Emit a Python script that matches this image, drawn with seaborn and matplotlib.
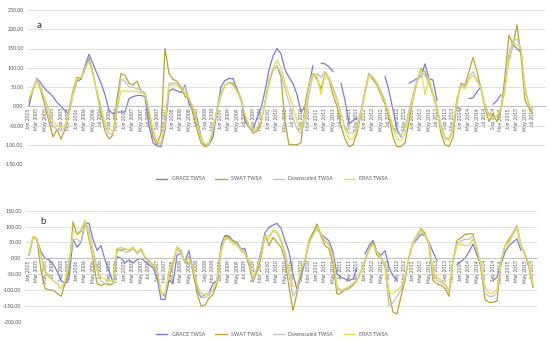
import numpy as np
import pandas as pd
import matplotlib
matplotlib.use("Agg")
import matplotlib.pyplot as plt
import seaborn as sns
from matplotlib.lines import Line2D
from matplotlib.ticker import FuncFormatter, FixedLocator

nan = np.nan

# ---- categories (monthly, Jan 2005 - Jul 2015) ----
months = pd.date_range("2005-01-01", periods=127, freq="MS")
tick_labels = [m.strftime("%b %Y") for m in months[::2]]
series_names = ["GRACE TWSA", "SWAT TWSA", "Downscaled TWSA", "ERA5 TWSA"]

# ---- panel a ----
a_grace = [0, 45, 72, 60, 45, 35, 25, 10, 0, -12, -18, 30,
           65, 70, 105, 135, 110, 85, 60, 30, -10, -20, -15, -15,
           -15, 20, 25, 28, 28, 25, -50, -95, -103, -105, -60, 40,
           45, 40, 35, 55, 5, -10, -30, -80, -105, -100, -80, -10,
           50, 67, 72, 72, 45, 20, -40, -55, -62, -30, -5, 40,
           95, 130, 150, 136, 95, 75, 59, 30, -15, 0, 55, 106,
           nan, 112, 110, 102, 90, nan, 60, 15, -45, -38, -30, nan,
           nan, 85, 70, 59, nan, 78, 40, -10, -60, -80, nan, 60,
           65, 72, 78, 110, 72, 68, 15, nan, nan, nan, nan, -3,
           -8, nan, 20, 22, 38, 50, nan, nan, 5, 15, 30, nan,
           120, 160, 150, 140, nan, nan, nan]
a_swat = [10, 45, 68, 40, 0, -40, -80, -60, -85, -60, -10, 40,
          75, 72, 95, 125, 85, 35, -20, -65, -85, -75, 20, 85,
          80, 60, 55, 65, 40, 35, -20, -80, -100, -70, 150, 85,
          70, 65, 50, 25, 20, -20, -60, -95, -105, -100, -60, -10,
          30, 55, 62, 60, 40, 20, -30, -55, -70, -65, -45, 10,
          60, 95, 105, 75, -40, -100, -100, -100, -95, 0, 60, 85,
          70, 45, 85, 70, 30, 0, -50, -85, -105, -100, -70, -20,
          40, 85, 70, 55, 30, 5, -30, -80, -105, -105, -95, -40,
          20, 65, 98, 90, 60, 30, -10, -70, -100, -105, -80, 10,
          60, 55, 90, 127, 90, 45, -5, -40, -20, -40, -10, 80,
          185, 160, 212, 130, 15, -5, -20]
a_down = [15, 45, 70, 50, 10, -30, -50, -60, -65, -55, -15, 35,
          70, 75, 100, 120, 85, 35, -10, -55, -70, -75, -5, 70,
          65, 50, 50, 45, 40, 35, -10, -65, -95, -100, -40, 60,
          60, 60, 45, 50, 20, -5, -45, -85, -100, -100, -60, -10,
          30, 55, 62, 55, 40, 15, -25, -55, -65, -60, -40, 10,
          65, 95, 105, 85, 45, 10, -30, -60, -70, -40, 30, 80,
          85, 75, 90, 75, 50, 20, -20, -55, -70, -70, -50, -10,
          40, 85, 75, 60, 40, 15, -20, -55, -70, -75, -55, -10,
          30, 70, 90, 80, 65, 35, 0, -50, -80, -85, -55, 20,
          55, 50, 75, 90, 70, 45, 5, -20, -35, -25, -5, 50,
          140, 170, 175, 150, 50, 5, -5]
a_era5 = [20, 45, 65, 45, 20, -10, -40, -50, -55, -50, -20, 30,
          70, 75, 95, 115, 80, 40, 0, -45, -60, -65, -10, 40,
          40, 38, 40, 38, 35, 30, -10, -60, -90, -95, -50, 55,
          55, 55, 45, 35, 20, 0, -40, -80, -100, -95, -60, -10,
          35, 55, 60, 55, 40, 20, -20, -50, -60, -55, -40, 10,
          70, 100, 120, 100, 60, 30, 0, -40, -60, -20, 60, 85,
          80, 30, 85, 70, 45, 15, -20, -60, -85, -85, -60, -20,
          30, 80, 75, 60, 35, 10, -20, -60, -85, -90, -70, -20,
          20, 60, 95, 30, 75, 30, -10, -60, -85, -90, -60, 20,
          50, 45, 70, 80, 65, 45, 0, -25, -30, -25, -10, 40,
          120, 165, 160, 150, 40, 0, -10]

# ---- panel b ----
b_grace = [10, 65, 60, 20, 0, -5, -18, -40, -70, -80, -65, 60,
           35, 50, 110, 110, 60, 25, 40, -5, -40, -75, 5, 0,
           -15, -5, -15, -5, 0, -10, -20, -30, -60, -130, -130, -70,
           -80, 10, 15, -10, 24, -40, -100, -123, -115, -110, -80, -70,
           40, 72, 70, 55, 50, 30, 30, -20, -70, -30, 20, 80,
           98, 105, 110, 95, 56, 20, -50, -97, -60, -10, 50, 80,
           100, 77, 66, 55, 20, -50, -60, -65, -70, -65, -30, nan,
           14, 40, 56, 20, 10, 24, -28, -55, -70, nan, nan, nan,
           45, 60, 75, 72, 50, 20, -7, nan, nan, nan, nan, -20,
           -10, 0, 20, 45, 10, -20, nan, nan, -70, -60, -20, 20,
           40, 50, 61, 24, nan, nan, nan]
b_swat = [10, 65, 60, -40, -95, -100, -100, -110, -120, -80, -40, 115,
          75, 85, 120, 60, 0, -80, -86, -80, -85, -80, 30, 25,
          30, 25, 35, 15, 30, 5, -10, -20, -35, -110, -120, -60,
          -20, 35, 25, -15, 5, -40, -110, -150, -148, -125, -115, -80,
          20, 70, 65, 55, 50, 25, 15, -20, -75, -40, 0, 75,
          40, 66, 50, 35, -5, -90, -165, -110, -40, -5, 56, 80,
          108, 70, 40, 30, -20, -113, -110, -100, -95, -85, -70, -40,
          -10, 30, 50, 10, 0, -20, -110, -170, -175, -120, -70, 5,
          50, 72, 93, 80, 40, -70, -80, -85, -95, -120, -10, 56,
          65, 75, 77, 77, 25, -35, -130, -139, -139, -135, -10, 40,
          60, 80, 103, 40, 10, -30, -92]
b_down = [10, 65, 60, 10, -40, -55, -70, -80, -95, -75, -10, 60,
          60, 50, 115, 90, 30, -30, -70, -80, -80, -80, 20, 30,
          20, 20, 30, 15, 25, 0, -10, -25, -40, -110, -115, -40,
          -10, 30, 15, -10, 0, -30, -90, -120, -125, -115, -100, -70,
          30, 60, 62, 50, 45, 30, 20, -10, -70, -30, 10, 70,
          70, 85, 80, 55, 10, -50, -120, -100, -40, -10, 50, 75,
          90, 75, 55, 45, 10, -95, -105, -100, -90, -80, -70, -40,
          -5, 30, 45, 20, 0, -30, -150, -140, -120, -100, -60, 0,
          50, 70, 85, 70, 45, -50, -70, -75, -85, -105, -10, 45,
          55, 60, 60, 70, 30, -30, -110, -120, -120, -110, -10, 40,
          50, 75, 95, 40, 15, -25, -85]
b_era5 = [15, 70, 65, 5, -45, -60, -70, -80, -95, -70, -20, 85,
          80, 90, 118, 70, 10, -40, -60, -65, -70, -75, 30, 35,
          30, 25, 35, 20, 30, 5, -5, -20, -35, -110, -110, -50,
          -10, 38, 20, -10, 0, -30, -80, -110, -115, -110, -100, -70,
          25, 65, 60, 45, 40, 25, 15, -10, -60, -30, 10, 70,
          60, 90, 85, 60, 20, -30, -90, -85, -30, -5, 50, 70,
          100, 80, 55, 40, 0, -90, -100, -95, -90, -80, -70, -45,
          -10, 25, 45, 20, 0, -20, -110, -110, -100, -90, -60, 0,
          45, 70, 88, 75, 50, -40, -60, -70, -80, -100, -10, 40,
          45, 40, 40, 60, 30, -20, -90, -110, -110, -100, -10, 40,
          50, 80, 100, 40, 15, -20, -80]

colors = ["#7b7bd6", "#b9a437", "#c9c0c0", "#e2dd4a"]

sns.set_style("white")
plt.rcParams["font.family"] = ["Lato", "DejaVu Sans"]

fig = plt.figure(figsize=(5.5, 3.42), dpi=100)
W, H = 550, 342
axA = fig.add_axes([27 / W, 1 - 164 / H, (545 - 27) / W, 154 / H])
axB = fig.add_axes([25 / W, 1 - 321.7 / H, (537 - 25) / W, 111 / H])


def draw(ax, data, ylim, xlim):
    for vals, color in zip(data, colors):
        df = pd.DataFrame({"i": np.arange(len(vals)), "v": np.array(vals, dtype=float)})
        df["seg"] = df["v"].isna().cumsum()
        df = df.dropna()
        sns.lineplot(data=df, x="i", y="v", units="seg", estimator=None,
                     color=color, lw=0.9, ax=ax, legend=False)
    ax.set_ylim(*ylim)
    ax.set_xlim(*xlim)
    ax.set_xlabel("")
    ax.set_ylabel("")
    ax.yaxis.set_major_locator(FixedLocator(np.arange(ylim[0], ylim[1] + 1, 50)))
    ax.yaxis.set_major_formatter(FuncFormatter(lambda v, p: f"{v:.2f}"))
    ax.set_xticks(np.arange(0, 127, 2))
    ax.set_xticklabels(tick_labels)
    ax.grid(axis="y", color="#d9d9d9", lw=0.6)
    ax.grid(axis="x", visible=False)
    for s in ["top", "right", "left"]:
        ax.spines[s].set_visible(False)
    ax.spines["bottom"].set_position(("data", 0))
    ax.spines["bottom"].set_color("#bdbdbd")
    ax.spines["bottom"].set_linewidth(0.6)
    ax.spines["bottom"].set_linestyle((0, (2, 1)))
    ax.tick_params(axis="x", length=0, pad=1.5, labelrotation=90,
                   labelsize=3.6, labelcolor="#595959")
    ax.tick_params(axis="y", length=0, pad=2.5, labelsize=3.8, labelcolor="#595959")
    ax.set_axisbelow(True)


draw(axA, [a_grace, a_swat, a_down, a_era5], (-150, 250), (-0.5, 129))
draw(axB, [b_grace, b_swat, b_down, b_era5], (-200, 150), (-1, 127))

fig.text(39 / W, 1 - 25 / H, "a", fontsize=7, va="center", ha="center", color="#333333")
fig.text(43 / W, 1 - 222 / H, "b", fontsize=7, va="center", ha="center", color="#333333")

handles = [Line2D([], [], color=c, lw=1.0) for c in colors]
for yc in (179, 334):
    fig.legend(handles, series_names, loc="center", bbox_to_anchor=(272 / W, 1 - yc / H),
               ncol=4, frameon=False, fontsize=3.8, handlelength=2.2,
               columnspacing=2.0, handletextpad=0.8, labelcolor="#595959")

fig.savefig("out.png", dpi=100)
